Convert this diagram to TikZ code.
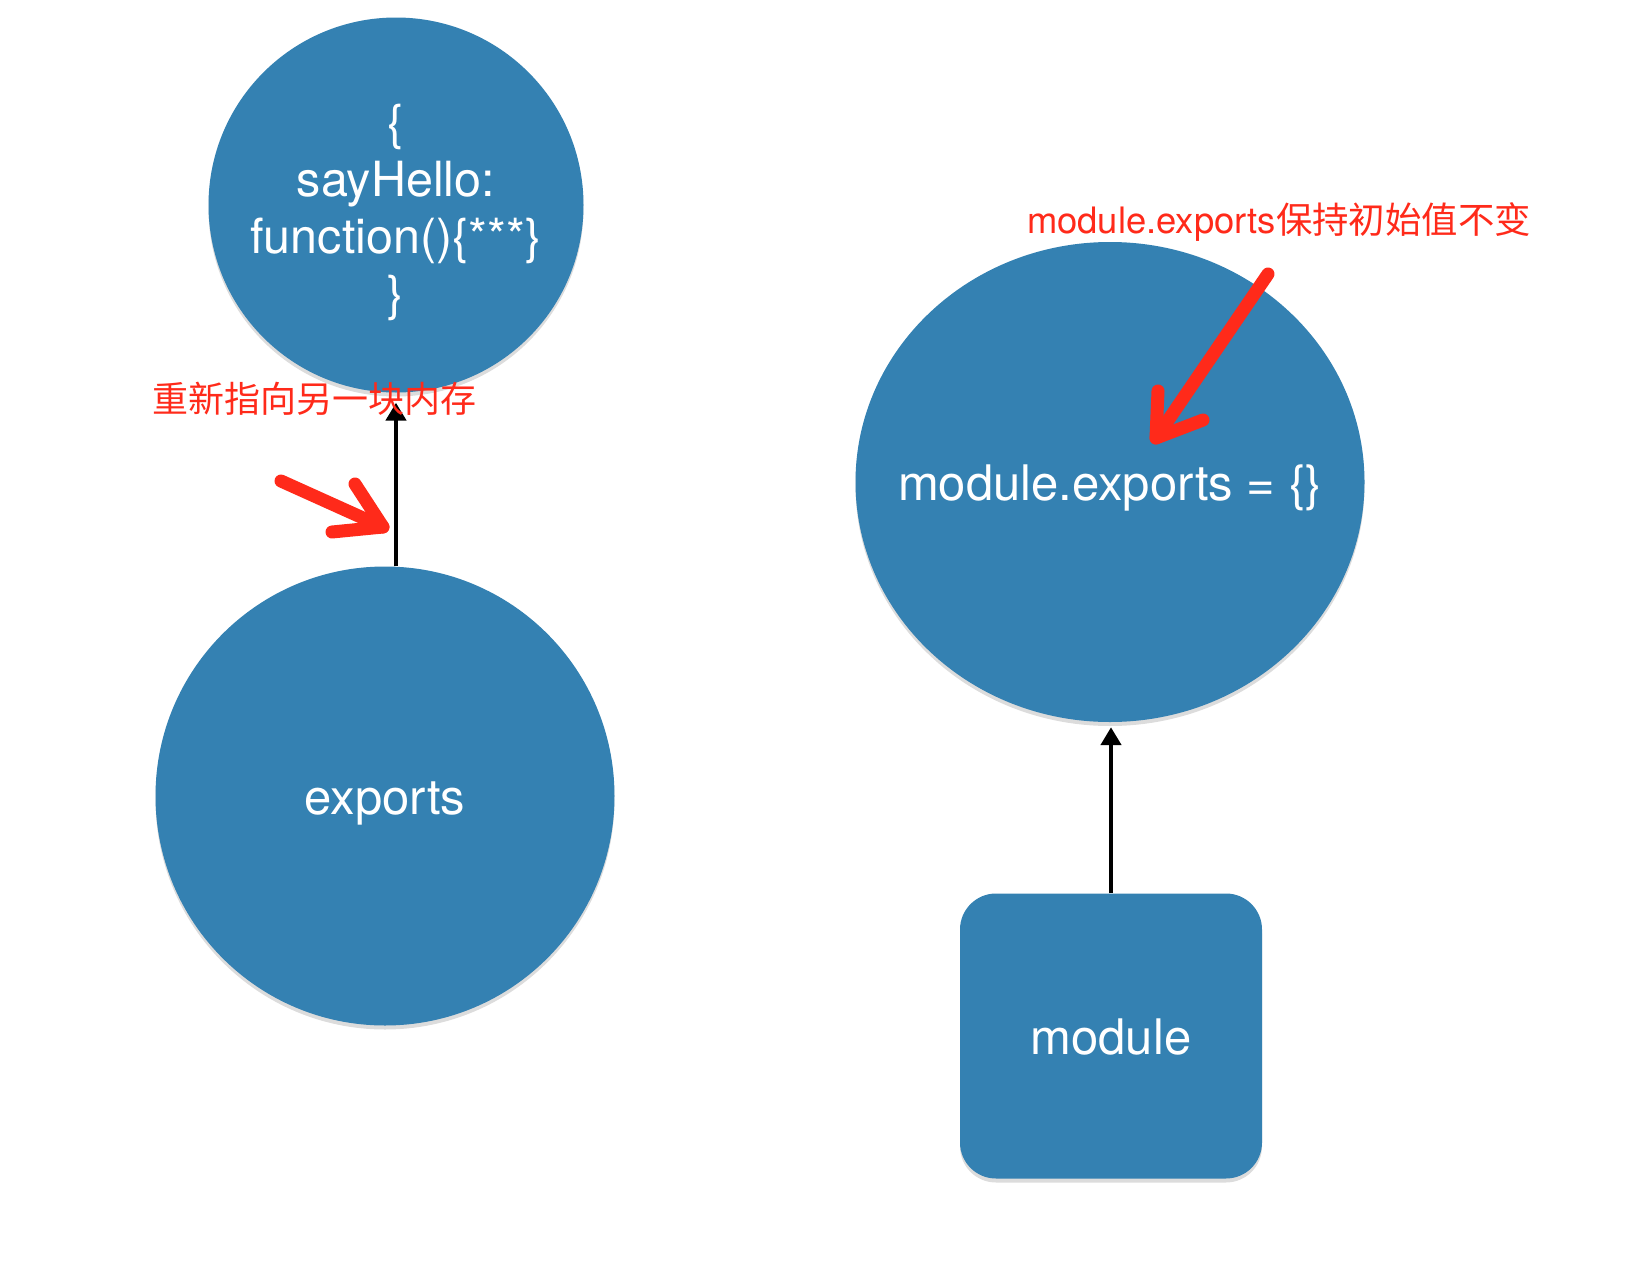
\documentclass[tikz,border=0pt]{standalone}
\usepackage{fontspec}
\setmainfont{TeX Gyre Heros}
\newfontfamily\cjk{Noto Sans CJK SC}
\usetikzlibrary{shapes.geometric,shadows,arrows.meta}
\definecolor{boxblue}{RGB}{52,129,178}
\definecolor{notered}{RGB}{255,42,26}
\begin{document}
\begin{tikzpicture}[x=1pt,y=-1pt,
  blob/.style={fill=boxblue, draw=none, text=white, inner sep=0pt,
    font=\fontsize{49}{57}\selectfont,
    drop shadow={shadow xshift=0pt,shadow yshift=-4pt,opacity=0.28}},
  oneline/.style={text height=46pt, text depth=10pt},
  conn/.style={draw=black, line width=4.5pt, -{Triangle[width=20pt,length=18pt]}},
  redarrow/.style={draw=notered, line width=13pt, line cap=round, line join=round},
  redlabel/.style={text=notered, inner sep=0pt}]
\useasboundingbox (0,0) rectangle (1634,1266);

\node[blob, circle, minimum size=375pt, align=center, font=\fontsize{48.5}{57}\selectfont] (top) at (396,205)
  {\rule{0pt}{50pt}\{\\sayHello:\\function()\{***\}\\\}};
\node[blob, oneline, circle, minimum size=459pt] (exp) at (385,796) {exports};
\node[blob, oneline, ellipse, minimum width=509pt, minimum height=480pt] (mexp) at (1110,482)
  {\makebox[0pt][c]{module.exports = \{\}}};
\node[blob, oneline, rounded corners=36pt, minimum width=302pt, minimum height=285pt] (mod) at (1111,1036)
  {module};

\draw[conn, shorten >=10pt] (top.south |- exp.north) -- (top.south);
\draw[conn, shorten >=5pt] (mod.north) -- (mod.north |- mexp.south);

\coordinate (la1) at (281,481);
\coordinate (la2) at (383,527);
\coordinate (la3) at (355,484);
\coordinate (la4) at (332,532);
\draw[redarrow] (la1) -- (la2);
\draw[redarrow] (la3) -- (la2) -- (la4);

\coordinate (ra1) at (1268,274);
\coordinate (ra2) at (1156,438);
\coordinate (ra3) at (1158,391);
\coordinate (ra4) at (1203,420);
\draw[redarrow] (ra1) -- (ra2);
\draw[redarrow] (ra3) -- (ra2) -- (ra4);

\node[redlabel, font=\cjk\fontsize{36}{40}\selectfont] (lbl1) at (314,399) {重新指向另一块内存};
\node[redlabel, font=\fontsize{36.4}{40}\selectfont] (lbl2) at (1279,222) {module.exports{\cjk 保持初始值不变}};
\end{tikzpicture}
\end{document}
